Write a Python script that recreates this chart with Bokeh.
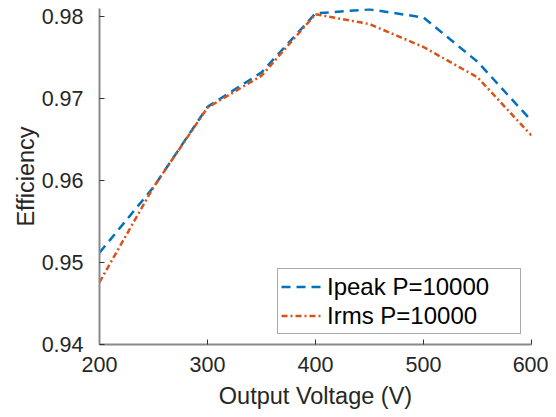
from bokeh.plotting import figure
from bokeh.models import Range1d, FixedTicker, Legend, LegendItem
from bokeh.embed import file_html
from bokeh.resources import INLINE

voltage = [200, 250, 300, 350, 400, 450, 500, 550, 600]
ipeak = [0.9512, 0.9592, 0.9690, 0.9732, 0.9804, 0.9809, 0.9799, 0.9745, 0.9673]
irms = [0.9476, 0.9592, 0.9689, 0.9728, 0.9803, 0.9791, 0.9763, 0.9726, 0.9655]

x_ticks = [200, 300, 400, 500, 600]
y_ticks = [0.94, 0.95, 0.96, 0.97, 0.98]

FONT = "Liberation Sans"
TXT = "#262626"

p = figure(frame_width=432, frame_height=336, output_backend="svg", toolbar_location=None,
           x_range=Range1d(200, 600), y_range=Range1d(0.94, 0.981),
           min_border_left=99, min_border_top=8, min_border_right=17, min_border_bottom=65)
p.outline_line_color = None
p.xgrid.visible = False
p.ygrid.visible = False
p.background_fill_color = "white"
p.border_fill_color = "white"

r1 = p.line(voltage, ipeak, line_color="#0072BD", line_width=2.5, line_dash="9 6")
r2 = p.line(voltage, irms, line_color="#D95319", line_width=2.5, line_dash="6 3 2 3")

p.xaxis.ticker = FixedTicker(ticks=x_ticks)
p.yaxis.ticker = FixedTicker(ticks=y_ticks)
p.xaxis.axis_label = "Output Voltage (V)"
p.yaxis.axis_label = "Efficiency"

for ax in (p.xaxis[0], p.yaxis[0]):
    ax.axis_line_color = "#8a8a8a"
    ax.axis_line_width = 2
    ax.major_tick_line_color = "#333333"
    ax.major_tick_line_width = 1
    ax.major_tick_in = 5
    ax.major_tick_out = 0
    ax.minor_tick_line_color = None
    ax.major_label_text_font = FONT
    ax.major_label_text_font_size = "21.5px"
    ax.major_label_text_color = TXT
    ax.axis_label_text_font = FONT
    ax.axis_label_text_font_size = "23.5px"
    ax.axis_label_text_font_style = "normal"
    ax.axis_label_text_color = TXT

p.yaxis.major_label_standoff = 16
p.yaxis.axis_label_standoff = 0
p.xaxis.major_label_standoff = 12
p.xaxis.axis_label_standoff = 8

legend = Legend(items=[LegendItem(label="Ipeak P=10000", renderers=[r1]),
                       LegendItem(label="Irms P=10000", renderers=[r2])],
                location=(178, 10), orientation="vertical")
legend.label_text_font = FONT
legend.label_text_font_size = "24px"
legend.label_text_color = "#000000"
legend.glyph_width = 42
legend.glyph_height = 29
legend.label_height = 29
legend.label_width = 190
legend.label_standoff = 4
legend.padding = 3
legend.spacing = 0
legend.margin = 0
legend.border_line_color = "#555555"
legend.border_line_width = 1
legend.background_fill_color = "white"
legend.background_fill_alpha = 1
p.add_layout(legend, "center")

open("out.html", "w").write(file_html(p, INLINE))
